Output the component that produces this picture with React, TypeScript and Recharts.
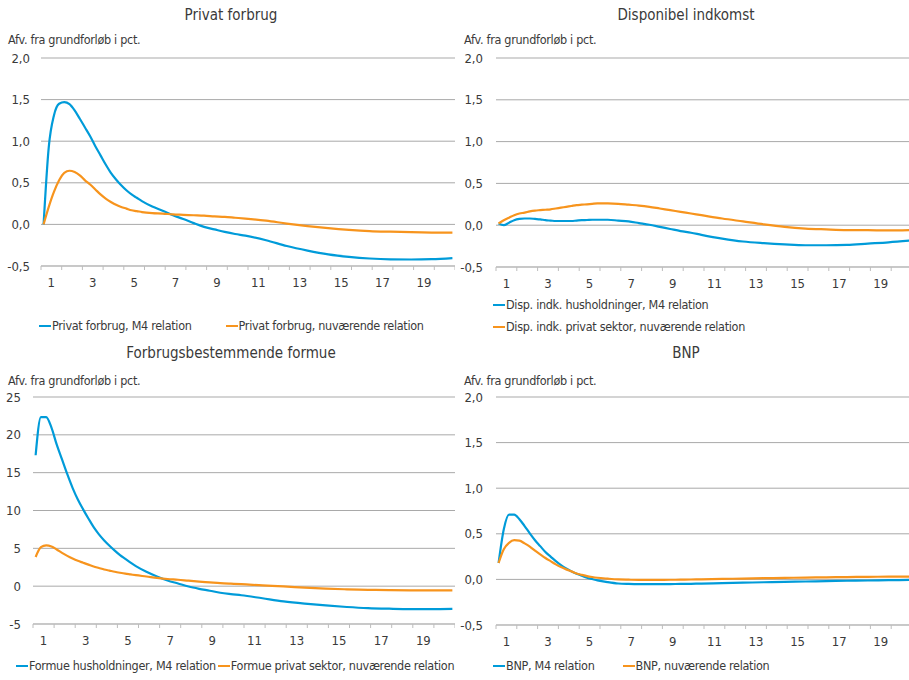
import { LineChart, Line, XAxis, YAxis, CartesianGrid } from 'recharts'

const FONT = '"Liberation Sans Narrow", "DejaVu Sans Condensed", Roboto, sans-serif'
const TEXT = '#3a3a3a'
const BLUE = '#009bd9'
const ORANGE = '#f7941d'
const GRID = '#a9a9a9'
const AXIS = '#bdbdbd'
const SMALL = { fontSize: 12.5, letterSpacing: -0.3, color: TEXT, fontFamily: FONT, lineHeight: '18px', whiteSpace: 'nowrap' as const }

// quarter number (1 = first quarter of year 1)
const quarters = [
  1, 2, 3, 4, 5, 6, 7, 8, 9, 10, 11, 12, 13, 14, 15, 16, 17, 18, 19, 20,
  22, 24, 26, 28, 30, 32, 34, 36, 38, 40,
  44, 48, 52, 56, 60, 64, 68, 72, 76, 80,
]

const privatM4 = [
  0.0, 0.93, 1.31, 1.45, 1.47, 1.445, 1.37, 1.27, 1.165, 1.06, 0.94, 0.83, 0.72, 0.62, 0.54, 0.47, 0.41, 0.36, 0.32, 0.28,
  0.215, 0.165, 0.11, 0.065, 0.015, -0.03, -0.06, -0.09, -0.115, -0.135,
  -0.19, -0.26, -0.315, -0.36, -0.39, -0.41, -0.42, -0.422, -0.418, -0.405,
]
const privatNu = [
  0.0, 0.21, 0.39, 0.53, 0.62, 0.645, 0.63, 0.59, 0.53, 0.48, 0.42, 0.36, 0.31, 0.27, 0.235, 0.21, 0.19, 0.17, 0.16, 0.148,
  0.135, 0.13, 0.12, 0.115, 0.11, 0.105, 0.097, 0.09, 0.08, 0.07,
  0.045, 0.01, -0.02, -0.045, -0.065, -0.08, -0.088, -0.094, -0.098, -0.1,
]

const dispM4 = [
  0.02, 0.0, 0.03, 0.06, 0.075, 0.08, 0.08, 0.075, 0.07, 0.06, 0.055, 0.05, 0.05, 0.05, 0.05, 0.055, 0.06, 0.062, 0.065, 0.065,
  0.065, 0.055, 0.045, 0.025, 0.005, -0.02, -0.045, -0.07, -0.09, -0.115,
  -0.16, -0.195, -0.215, -0.23, -0.24, -0.24, -0.235, -0.22, -0.205, -0.185,
]
const dispNu = [
  0.02, 0.06, 0.09, 0.12, 0.14, 0.15, 0.165, 0.175, 0.18, 0.185, 0.19, 0.2, 0.21, 0.22, 0.23, 0.24, 0.245, 0.25, 0.255, 0.26,
  0.26, 0.255, 0.245, 0.235, 0.22, 0.2, 0.18, 0.16, 0.14, 0.12,
  0.08, 0.045, 0.01, -0.02, -0.04, -0.05, -0.058, -0.06, -0.062, -0.06,
]

const formueM4 = [
  17.3, 22.35, 22.35, 20.95, 18.7, 16.75, 14.8, 13.0, 11.45, 10.15, 8.95, 7.8, 6.85, 6.05, 5.35, 4.7, 4.1, 3.6, 3.1, 2.65,
  1.9, 1.28, 0.75, 0.35, -0.05, -0.35, -0.6, -0.87, -1.05, -1.2,
  -1.6, -2.0, -2.3, -2.55, -2.75, -2.9, -2.98, -3.03, -3.03, -3.0,
]
const formueNu = [
  3.85, 5.15, 5.4, 5.25, 4.85, 4.4, 4.0, 3.65, 3.35, 3.1, 2.85, 2.6, 2.4, 2.2, 2.05, 1.9, 1.77, 1.65, 1.55, 1.45,
  1.28, 1.1, 0.95, 0.85, 0.72, 0.6, 0.5, 0.4, 0.33, 0.27,
  0.1, -0.03, -0.2, -0.33, -0.42, -0.48, -0.52, -0.55, -0.56, -0.56,
]

const bnpM4 = [
  0.18, 0.55, 0.71, 0.71, 0.66, 0.585, 0.505, 0.43, 0.365, 0.3, 0.25, 0.2, 0.157, 0.12, 0.088, 0.062, 0.04, 0.018, 0.004, -0.01,
  -0.03, -0.045, -0.05, -0.052, -0.052, -0.052, -0.051, -0.05, -0.048, -0.046,
  -0.041, -0.036, -0.031, -0.027, -0.023, -0.019, -0.015, -0.012, -0.009, -0.006,
]
const bnpNu = [
  0.18, 0.33, 0.4, 0.43, 0.425, 0.395, 0.36, 0.315, 0.275, 0.235, 0.2, 0.165, 0.135, 0.11, 0.088, 0.065, 0.05, 0.036, 0.026, 0.018,
  0.008, 0.0, -0.003, -0.005, -0.005, -0.005, -0.004, -0.003, -0.001, 0.001,
  0.005, 0.009, 0.013, 0.017, 0.02, 0.023, 0.026, 0.028, 0.03, 0.031,
]

const pctTicks = [-0.5, 0, 0.5, 1, 1.5, 2]
const formueTicks = [-5, 0, 5, 10, 15, 20, 25]
const UNIT = 'Afv. fra grundforløb i pct.'

// axis positions in quarters: boundaries every 4, year labels at mid-year
const xTicks = Array.from({ length: 41 }, (_, i) => i * 2)

const rows = (a: number[], b: number[]) => quarters.map((q, i) => ({ q, blue: a[i], orange: b[i] }))

function YearTick({ x, y, payload }: any) {
  const v = payload.value
  return (
    <g>
      {v % 4 === 0 && <line x1={x} x2={x} y1={y} y2={y + 4} stroke={AXIS} />}
      {v % 8 === 2 && (
        <text x={x} y={y + 21} textAnchor="middle" fill={TEXT} fontSize={13} fontFamily={FONT}>
          {(v - 2) / 4 + 1}
        </text>
      )}
    </g>
  )
}

const comma = (v: number) => v.toFixed(1).replace('.', ',')

type LegendRow = { x: number; y: number; gap: number; items: { name: string; color: string }[] }

function Panel(props: {
  left: number
  top: number
  width: number
  title: string
  titleX: number
  titleY: number
  unitX: number
  unitY: number
  data: any[]
  domain: [number, number]
  ticks: number[]
  fmt: (v: number) => string
  yWidth: number
  tickGap: number
  plotTop: number
  plotBottom: number
  legend: LegendRow[]
}) {
  const H = 340
  const { left, top } = props
  return (
    <div style={{ position: 'absolute', left, top, width: props.width, height: H }}>
      <div
        style={{
          position: 'absolute', left: props.titleX - left - 150, width: 300, top: props.titleY - top - 10,
          textAlign: 'center', fontSize: 15, lineHeight: '20px', color: TEXT, fontFamily: FONT,
        }}
      >
        {props.title}
      </div>
      <div style={{ ...SMALL, position: 'absolute', left: props.unitX - left, top: props.unitY - top - 9 }}>{UNIT}</div>
      <LineChart
        width={props.width}
        height={H}
        data={props.data}
        margin={{ top: props.plotTop - top, right: 0, left: 0, bottom: H - (props.plotBottom - top) - 30 }}
      >
        <CartesianGrid vertical={false} stroke={GRID} />
        <XAxis
          type="number"
          dataKey={(d: any) => d.q - 0.5}
          domain={[0, 80]}
          ticks={xTicks}
          interval={0}
          height={30}
          tickSize={0}
          tickMargin={0}
          tickLine={false}
          stroke={AXIS}
          tick={<YearTick />}
        />
        <YAxis
          domain={props.domain}
          ticks={props.ticks}
          width={props.yWidth}
          axisLine={false}
          tickLine={false}
          tickSize={0}
          tickMargin={props.tickGap}
          tickFormatter={props.fmt}
          tick={{ fill: TEXT, fontSize: 13, fontFamily: FONT }}
          interval={0}
        />
        <Line type="monotone" dataKey="blue" stroke={BLUE} strokeWidth={2.2} dot={false} isAnimationActive={false} />
        <Line type="monotone" dataKey="orange" stroke={ORANGE} strokeWidth={2.2} dot={false} isAnimationActive={false} />
      </LineChart>
      {props.legend.map((row, r) => (
        <div
          key={r}
          style={{ ...SMALL, position: 'absolute', left: row.x - left, top: row.y - top - 9, display: 'flex', alignItems: 'center', gap: row.gap }}
        >
          {row.items.map((l) => (
            <span key={l.name} style={{ display: 'flex', alignItems: 'center' }}>
              <span style={{ display: 'inline-block', width: 12, height: 2.5, background: l.color, marginRight: 1 }} />
              {l.name}
            </span>
          ))}
        </div>
      ))}
    </div>
  )
}

const blueItem = (name: string) => ({ name, color: BLUE })
const orangeItem = (name: string) => ({ name, color: ORANGE })

export default function App() {
  return (
    <div style={{ position: 'absolute', left: 0, top: 0, width: 909, height: 680, overflow: 'hidden', background: '#fff' }}>
      <Panel
        left={0} top={0} width={455}
        title="Privat forbrug" titleX={231} titleY={15} unitX={8} unitY={40}
        data={rows(privatM4, privatNu)} domain={[-0.5, 2]} ticks={pctTicks} fmt={comma}
        yWidth={41} tickGap={11} plotTop={58} plotBottom={266}
        legend={[
          { x: 39, y: 326, gap: 34, items: [blueItem('Privat forbrug, M4 relation'), orangeItem('Privat forbrug, nuværende relation')] },
        ]}
      />
      <Panel
        left={455} top={0} width={457}
        title="Disponibel indkomst" titleX={686} titleY={15} unitX={464} unitY={40}
        data={rows(dispM4, dispNu)} domain={[-0.5, 2]} ticks={pctTicks} fmt={comma}
        yWidth={41} tickGap={13} plotTop={58} plotBottom={267}
        legend={[
          { x: 493, y: 305, gap: 0, items: [blueItem('Disp. indk. husholdninger, M4 relation')] },
          { x: 493, y: 327, gap: 0, items: [orangeItem('Disp. indk. privat sektor, nuværende relation')] },
        ]}
      />
      <Panel
        left={0} top={340} width={455}
        title="Forbrugsbestemmende formue" titleX={231} titleY={353} unitX={8} unitY={381}
        data={rows(formueM4, formueNu)} domain={[-5, 25]} ticks={formueTicks} fmt={(v) => String(v)}
        yWidth={33} tickGap={12} plotTop={397} plotBottom={624}
        legend={[
          { x: 16, y: 666, gap: 2, items: [blueItem('Formue husholdninger, M4 relation'), orangeItem('Formue privat sektor, nuværende relation')] },
        ]}
      />
      <Panel
        left={455} top={340} width={457}
        title="BNP" titleX={686} titleY={353} unitX={464} unitY={381}
        data={rows(bnpM4, bnpNu)} domain={[-0.5, 2]} ticks={pctTicks} fmt={comma}
        yWidth={41} tickGap={13} plotTop={397} plotBottom={625}
        legend={[
          { x: 493, y: 666, gap: 28, items: [blueItem('BNP, M4 relation'), orangeItem('BNP, nuværende relation')] },
        ]}
      />
    </div>
  )
}
